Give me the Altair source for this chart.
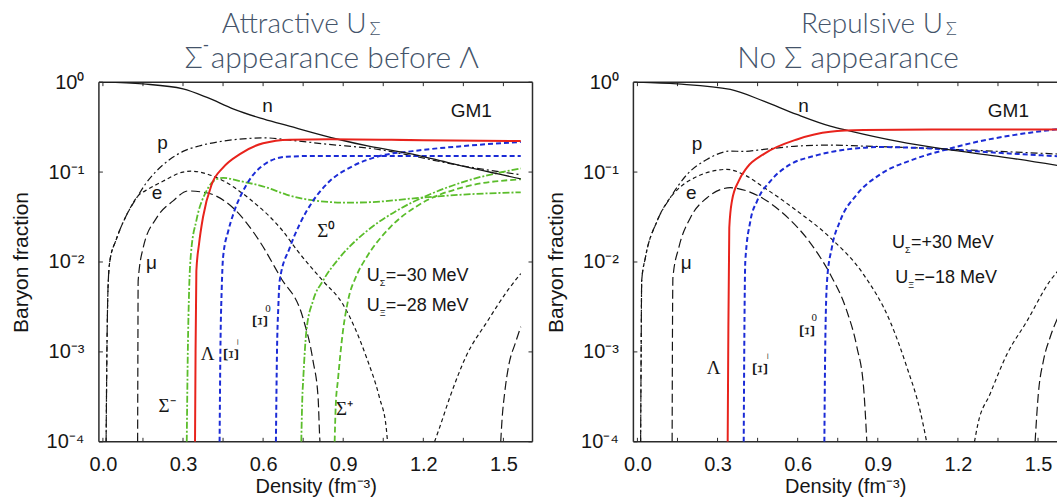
import altair as alt
import pandas as pd

# Density values (fm^-3) and log10 of the baryon/lepton fraction for each curve.

# ---------- left panel: attractive U_Sigma ----------
L_n_x = [0.0, 0.15, 0.30, 0.39, 0.49, 0.59, 0.675, 0.88, 1.0, 1.16, 1.30, 1.565]
L_n_lg = [0.0, -0.02, -0.075, -0.17, -0.30, -0.40, -0.47, -0.635, -0.715, -0.80, -0.90, -1.075]

L_p_x = [0.012, 0.015, 0.019, 0.026, 0.05, 0.09, 0.13, 0.16, 0.20, 0.25, 0.30, 0.36, 0.45, 0.55, 0.61, 0.70, 0.84, 1.036, 1.16, 1.29, 1.565]
L_p_lg = [-4.0, -3.0, -2.3, -1.99, -1.75, -1.47, -1.27, -1.13, -0.99, -0.86, -0.77, -0.71, -0.655, -0.625, -0.62, -0.645, -0.69, -0.75, -0.82, -0.90, -1.03]

L_e_x = [0.012, 0.015, 0.019, 0.026, 0.05, 0.09, 0.13, 0.17, 0.226, 0.30, 0.33, 0.425, 0.55, 0.675, 0.73, 0.824, 0.899, 0.987, 1.036, 1.061, 1.066]
L_e_lg = [-4.0, -3.0, -2.3, -1.99, -1.75, -1.47, -1.27, -1.19, -1.10, -1.0, -0.99, -1.06, -1.30, -1.66, -1.88, -2.21, -2.47, -3.06, -3.51, -3.84, -4.0]

L_mu_x = [0.130, 0.131, 0.132, 0.151, 0.201, 0.263, 0.319, 0.388, 0.488, 0.587, 0.665, 0.749, 0.787, 0.806, 0.812, 0.813]
L_mu_lg = [-4.0, -3.0, -2.21, -1.84, -1.51, -1.32, -1.21, -1.23, -1.40, -1.77, -2.17, -2.62, -3.1, -3.51, -3.95, -4.0]

L_e2_x = [1.242, 1.26, 1.30, 1.36, 1.44, 1.52, 1.565]
L_e2_lg = [-4.0, -3.85, -3.5, -3.05, -2.66, -2.3, -2.13]

L_mu2_x = [1.49, 1.495, 1.505, 1.52, 1.545, 1.565]
L_mu2_lg = [-4.0, -3.75, -3.45, -3.15, -2.9, -2.72]

L_lam_x = [0.345, 0.347, 0.350, 0.36, 0.375, 0.407, 0.45, 0.513, 0.60, 0.70, 0.85, 1.2, 1.565]
L_lam_lg = [-4.0, -3.0, -2.1, -1.8, -1.5, -1.14, -0.95, -0.80, -0.68, -0.64, -0.635, -0.645, -0.655]

L_sm_x = [0.314, 0.318, 0.323, 0.33, 0.35, 0.388, 0.425, 0.45, 0.513, 0.612, 0.687, 0.80, 0.912, 1.0, 1.173, 1.35, 1.565]
L_sm_lg = [-4.0, -3.0, -2.3, -1.9, -1.54, -1.21, -1.08, -1.065, -1.10, -1.17, -1.25, -1.32, -1.34, -1.335, -1.29, -1.25, -1.225]

L_s0_x = [0.743, 0.747, 0.75, 0.762, 0.787, 0.824, 0.887, 0.987, 1.10, 1.223, 1.36, 1.565]
L_s0_lg = [-4.0, -3.5, -3.32, -2.77, -2.43, -2.21, -1.95, -1.66, -1.43, -1.25, -1.10, -0.96]

L_sp_x = [0.868, 0.872, 0.88, 0.899, 0.918, 0.95, 0.987, 1.074, 1.186, 1.348, 1.565]
L_sp_lg = [-4.0, -3.6, -3.32, -2.77, -2.43, -2.15, -1.95, -1.62, -1.36, -1.17, -1.08]

L_xm_x = [0.437, 0.44, 0.445, 0.45, 0.47, 0.488, 0.538, 0.612, 0.687, 0.80, 1.2, 1.565]
L_xm_lg = [-4.0, -3.0, -2.3, -1.95, -1.65, -1.47, -1.14, -0.90, -0.83, -0.82, -0.82, -0.822]

L_x0_x = [0.648, 0.652, 0.657, 0.662, 0.70, 0.737, 0.787, 0.85, 0.936, 1.036, 1.16, 1.348, 1.565]
L_x0_lg = [-4.0, -3.0, -2.5, -2.21, -1.84, -1.58, -1.32, -1.10, -0.933, -0.822, -0.767, -0.711, -0.665]

# ---------- right panel: repulsive U_Sigma ----------
R_n_x = [0.0, 0.15, 0.348, 0.473, 0.597, 0.722, 0.797, 0.971, 1.158, 1.345, 1.58]
R_n_lg = [0.0, -0.02, -0.081, -0.211, -0.359, -0.489, -0.544, -0.656, -0.748, -0.822, -0.93]

R_p_x = [0.012, 0.014, 0.016, 0.03, 0.074, 0.123, 0.186, 0.26, 0.348, 0.398, 0.473, 0.597, 0.722, 0.847, 0.971, 1.2, 1.58]
R_p_lg = [-4.0, -3.0, -2.21, -1.95, -1.544, -1.285, -1.026, -0.86, -0.767, -0.77, -0.748, -0.711, -0.70, -0.711, -0.722, -0.75, -0.80]

R_e_x = [0.012, 0.014, 0.016, 0.03, 0.074, 0.123, 0.148, 0.223, 0.298, 0.335, 0.40, 0.473, 0.597, 0.722, 0.847, 0.946, 1.009, 1.059, 1.083]
R_e_lg = [-4.0, -3.0, -2.21, -1.95, -1.544, -1.285, -1.20, -1.05, -0.98, -0.97, -1.03, -1.17, -1.43, -1.73, -2.14, -2.66, -3.17, -3.66, -4.0]

R_mu_x = [0.130, 0.131, 0.133, 0.155, 0.198, 0.261, 0.348, 0.41, 0.535, 0.66, 0.722, 0.784, 0.822, 0.847, 0.859]
R_mu_lg = [-4.0, -3.0, -2.17, -1.84, -1.51, -1.285, -1.174, -1.21, -1.433, -1.84, -2.137, -2.544, -2.95, -3.4, -4.0]

R_e2_x = [1.262, 1.275, 1.32, 1.383, 1.458, 1.545, 1.58]
R_e2_lg = [-4.0, -3.8, -3.47, -3.03, -2.66, -2.21, -2.08]

R_mu2_x = [1.489, 1.501, 1.52, 1.545, 1.58]
R_mu2_lg = [-4.0, -3.47, -3.1, -2.84, -2.58]

R_lam_x = [0.338, 0.34, 0.344, 0.354, 0.379, 0.41, 0.473, 0.597, 0.722, 0.847, 1.1, 1.58]
R_lam_lg = [-4.0, -3.0, -1.62, -1.32, -1.10, -0.95, -0.80, -0.637, -0.552, -0.533, -0.526, -0.526]

R_xm_x = [0.398, 0.400, 0.404, 0.423, 0.448, 0.498, 0.572, 0.66, 0.784, 0.909, 1.096, 1.345, 1.58]
R_xm_lg = [-4.0, -3.0, -1.99, -1.544, -1.322, -1.10, -0.915, -0.822, -0.748, -0.722, -0.737, -0.785, -0.825]

R_x0_x = [0.70, 0.703, 0.71, 0.728, 0.759, 0.822, 0.909, 1.034, 1.158, 1.283, 1.408, 1.58]
R_x0_lg = [-4.0, -3.0, -2.21, -1.84, -1.544, -1.248, -1.026, -0.859, -0.748, -0.656, -0.589, -0.52]

# Axis ticks
X_LABEL_VALUES = [0.0, 0.3, 0.6, 0.9, 1.2, 1.5]
X_TICK_VALUES = [0.0, 0.15, 0.3, 0.45, 0.6, 0.75, 0.9, 1.05, 1.2, 1.35, 1.5]
Y_TICK_VALUES = [1e-4, 1e-3, 1e-2, 1e-1, 1.0]

BLACK = "#161616"
RED = "#e8231c"
BLUE = "#1b2bd6"
GREEN = "#5bbd2b"
TITLE_COLOR = "#44546a"
FRAME = "#2b2b2b"

SANS = "Liberation Sans"
SERIF = "Liberation Serif"

STYLE = {
    "n": dict(color=BLACK, strokeWidth=1.3),
    "p": dict(color=BLACK, strokeWidth=1.2, strokeDash=[7, 3, 2, 3]),
    "e": dict(color=BLACK, strokeWidth=1.2, strokeDash=[4, 3]),
    "mu": dict(color=BLACK, strokeWidth=1.2, strokeDash=[9, 4]),
    "lam": dict(color=RED, strokeWidth=2.0),
    "xi": dict(color=BLUE, strokeWidth=2.0, strokeDash=[5, 3]),
    "sm": dict(color=GREEN, strokeWidth=1.8, strokeDash=[7, 2, 2, 2]),
    "s0": dict(color=GREEN, strokeWidth=1.8, strokeDash=[7, 2, 2, 2]),
    "sp": dict(color=GREEN, strokeWidth=1.8, strokeDash=[6, 3]),
}

Y_LABEL_EXPR = (
    "datum.value >= 0.5 ? '10⁰' : datum.value >= 0.05 ? '10⁻¹' : "
    "datum.value >= 0.005 ? '10⁻²' : datum.value >= 0.0005 ? '10⁻³' : '10⁻⁴'"
)

H = 360

X_AXIS = alt.Axis(values=X_LABEL_VALUES, format=".1f",
                  domain=False, ticks=False, grid=False, labelFont=SANS,
                  labelFontSize=20, labelColor=BLACK, labelPadding=13,
                  titleFont=SANS, titleFontSize=20, titleFontWeight="normal",
                  titleColor=BLACK, titlePadding=2)
Y_AXIS = alt.Axis(values=Y_TICK_VALUES, labelExpr=Y_LABEL_EXPR,
                  domain=False, ticks=False, grid=False, labelFont=SANS,
                  labelFontSize=20, labelColor=BLACK, labelPadding=15,
                  titleFont=SANS, titleFontSize=21, titleFontWeight="normal",
                  titleColor=BLACK, titleX=-77, titleBaseline="middle")
X_TITLE = "Density (fm⁻³)"
Y_TITLE = "Baryon fraction"


def X(xs_):
    return alt.X("x:Q", scale=xs_, axis=X_AXIS, title=X_TITLE)


def Y(ys_):
    return alt.Y("y:Q", scale=ys_, axis=Y_AXIS, title=Y_TITLE)


def curve(xs, lg, style, xs_, ys_):
    df = pd.DataFrame({"x": xs, "y": [10 ** v for v in lg]})
    return alt.Chart(df).mark_line(clip=True, interpolate="monotone", **style).encode(
        x=X(xs_), y=Y(ys_))


def labels(items, xs_, ys_, font, size, angle=0):
    df = pd.DataFrame({"x": [i[0] for i in items],
                       "y": [10 ** i[1] for i in items],
                       "t": [i[2] for i in items]})
    return alt.Chart(df).mark_text(font=font, fontSize=size, color=BLACK, angle=angle,
                                   align="center", baseline="middle").encode(
        x=X(xs_), y=Y(ys_), text="t:N")


def potential(x, lg, sub, rest, xs_, ys_):
    df = pd.DataFrame({"x": [x], "y": [10 ** lg]})
    base = alt.Chart(df).encode(x=X(xs_), y=Y(ys_))
    u = base.mark_text(font=SANS, fontSize=18, color=BLACK, align="left",
                       baseline="middle", text="U")
    s = base.mark_text(font=SANS, fontSize=9, color=BLACK, align="left",
                       baseline="middle", dx=13, dy=7, text=sub)
    r = base.mark_text(font=SANS, fontSize=18, color=BLACK, align="left",
                       baseline="middle", dx=19, text=rest)
    return [u, s, r]


def frame_and_ticks(width, xs_, ys_, right_side):
    one = pd.DataFrame({"a": [0]})
    layers = []
    edges = [
        dict(x=alt.value(0), x2=alt.value(width), y=alt.value(0)),
        dict(x=alt.value(0), x2=alt.value(width), y=alt.value(H)),
        dict(x=alt.value(0), y=alt.value(0), y2=alt.value(H)),
    ]
    if right_side:
        edges.append(dict(x=alt.value(width), y=alt.value(0), y2=alt.value(H)))
    for enc in edges:
        layers.append(alt.Chart(one).mark_rule(color=FRAME, strokeWidth=1.5).encode(**enc))

    xt = pd.DataFrame({"x": X_TICK_VALUES})
    yt = pd.DataFrame({"y": Y_TICK_VALUES})
    layers.append(alt.Chart(xt).mark_rule(color=FRAME, strokeWidth=1).encode(
        x=X(xs_), y=alt.value(H), y2=alt.value(H - 4)))
    layers.append(alt.Chart(xt).mark_rule(color=FRAME, strokeWidth=1).encode(
        x=X(xs_), y=alt.value(0), y2=alt.value(4)))
    layers.append(alt.Chart(yt).mark_rule(color=FRAME, strokeWidth=1).encode(
        y=Y(ys_), x=alt.value(0), x2=alt.value(4)))
    if right_side:
        layers.append(alt.Chart(yt).mark_rule(color=FRAME, strokeWidth=1).encode(
            y=Y(ys_), x=alt.value(width - 4), x2=alt.value(width)))
    return layers


def title_marks(line1, u_right, line2_parts):
    """Two-line panel heading: line 1 ends in U with a subscript Sigma."""
    one = pd.DataFrame({"a": [0]})
    common = dict(font="Lato", color=TITLE_COLOR, baseline="alphabetic", align="left")
    out = [
        alt.Chart(one).mark_text(fontSize=28, fontWeight=300, text=line1,
                                 **{**common, "align": "right"}).encode(
            x=alt.value(u_right), y=alt.value(-49)),
        alt.Chart(one).mark_text(fontSize=18, fontWeight=300, text="Σ", **common).encode(
            x=alt.value(u_right + 3), y=alt.value(-47)),
    ]
    for text, x0, base, size, weight in line2_parts:
        out.append(alt.Chart(one).mark_text(fontSize=size, fontWeight=weight, text=text,
                                            **common).encode(
            x=alt.value(x0), y=alt.value(base)))
    return out


ys = alt.Scale(type="log", domain=[1e-4, 1], nice=False)

# ----- left panel -----
WL = 434
xsL = alt.Scale(domain=[-0.015, 1.609], nice=False, zero=False)
left_layers = frame_and_ticks(WL, xsL, ys, True)
left_layers += [
    curve(L_p_x, L_p_lg, STYLE["p"], xsL, ys),
    curve(L_e_x, L_e_lg, STYLE["e"], xsL, ys),
    curve(L_mu_x, L_mu_lg, STYLE["mu"], xsL, ys),
    curve(L_e2_x, L_e2_lg, STYLE["e"], xsL, ys),
    curve(L_mu2_x, L_mu2_lg, STYLE["mu"], xsL, ys),
    curve(L_sm_x, L_sm_lg, STYLE["sm"], xsL, ys),
    curve(L_s0_x, L_s0_lg, STYLE["s0"], xsL, ys),
    curve(L_sp_x, L_sp_lg, STYLE["sp"], xsL, ys),
    curve(L_xm_x, L_xm_lg, STYLE["xi"], xsL, ys),
    curve(L_x0_x, L_x0_lg, STYLE["xi"], xsL, ys),
    curve(L_n_x, L_n_lg, STYLE["n"], xsL, ys),
    curve(L_lam_x, L_lam_lg, STYLE["lam"], xsL, ys),
]
left_layers.append(labels([(0.617, -0.267, "n"), (1.38, -0.322, "GM1"), (0.223, -0.674, "p"),
                           (0.203, -1.23, "e"), (0.182, -2.008, "μ")], xsL, ys, SANS, 19))
left_layers.append(labels([(0.837, -1.656, "Σ⁰"), (0.392, -3.02, "Λ"),
                           (0.24, -3.6, "Σ⁻"), (0.905, -3.637, "Σ⁺")], xsL, ys, SERIF, 19))
left_layers.append(labels([(0.59, -2.66, "Ξ"), (0.478, -3.03, "Ξ")], xsL, ys, SERIF, 22, angle=90))
left_layers.append(labels([(0.618, -2.52, "0")], xsL, ys, SERIF, 11))
left_layers.append(labels([(0.505, -2.89, "−")], xsL, ys, SERIF, 12, angle=90))
left_layers += potential(0.988, -2.156, "Σ", "=−30 MeV", xsL, ys)
left_layers += potential(0.988, -2.49, "Ξ", "=−28 MeV", xsL, ys)
left_layers += title_marks("Attractive U", 268, [("Σ", 86, -14, 30, 300), ("-", 104, -31, 17, 400),
                                                 ("appearance before Λ", 112, -14, 30, 300)])

left = alt.layer(*left_layers).properties(width=WL, height=H)

# ----- right panel -----
WR = 424
xsR = alt.Scale(domain=[-0.015, 1.571], nice=False, zero=False)
right_layers = frame_and_ticks(WR, xsR, ys, False)
right_layers += [
    curve(R_p_x, R_p_lg, STYLE["p"], xsR, ys),
    curve(R_e_x, R_e_lg, STYLE["e"], xsR, ys),
    curve(R_mu_x, R_mu_lg, STYLE["mu"], xsR, ys),
    curve(R_e2_x, R_e2_lg, STYLE["e"], xsR, ys),
    curve(R_mu2_x, R_mu2_lg, STYLE["mu"], xsR, ys),
    curve(R_xm_x, R_xm_lg, STYLE["xi"], xsR, ys),
    curve(R_x0_x, R_x0_lg, STYLE["xi"], xsR, ys),
    curve(R_n_x, R_n_lg, STYLE["n"], xsR, ys),
    curve(R_lam_x, R_lam_lg, STYLE["lam"], xsR, ys),
]
right_layers.append(labels([(0.622, -0.267, "n"), (1.389, -0.322, "GM1"), (0.223, -0.692, "p"),
                            (0.202, -1.23, "e"), (0.183, -2.008, "μ")], xsR, ys, SANS, 19))
right_layers.append(labels([(0.285, -3.174, "Λ")], xsR, ys, SERIF, 19))
right_layers.append(labels([(0.635, -2.767, "Ξ"), (0.46, -3.19, "Ξ")], xsR, ys, SERIF, 22, angle=90))
right_layers.append(labels([(0.662, -2.625, "0")], xsR, ys, SERIF, 11))
right_layers.append(labels([(0.488, -3.05, "−")], xsR, ys, SERIF, 12, angle=90))
right_layers += potential(0.953, -1.786, "Σ", "=+30 MeV", xsR, ys)
right_layers += potential(0.965, -2.174, "Ξ", "=−18 MeV", xsR, ys)
right_layers += title_marks("Repulsive U", 310, [("No Σ appearance", 104, -14, 30, 300)])

right = alt.layer(*right_layers).properties(width=WR, height=H)

chart = (
    alt.hconcat(left, right, spacing=12)
    .properties(padding={"left": 11, "top": 11, "right": 0, "bottom": 0}, background="white")
    .configure_view(stroke=None)
)

chart.save("out.html", embed_options={"renderer": "svg", "actions": False})
